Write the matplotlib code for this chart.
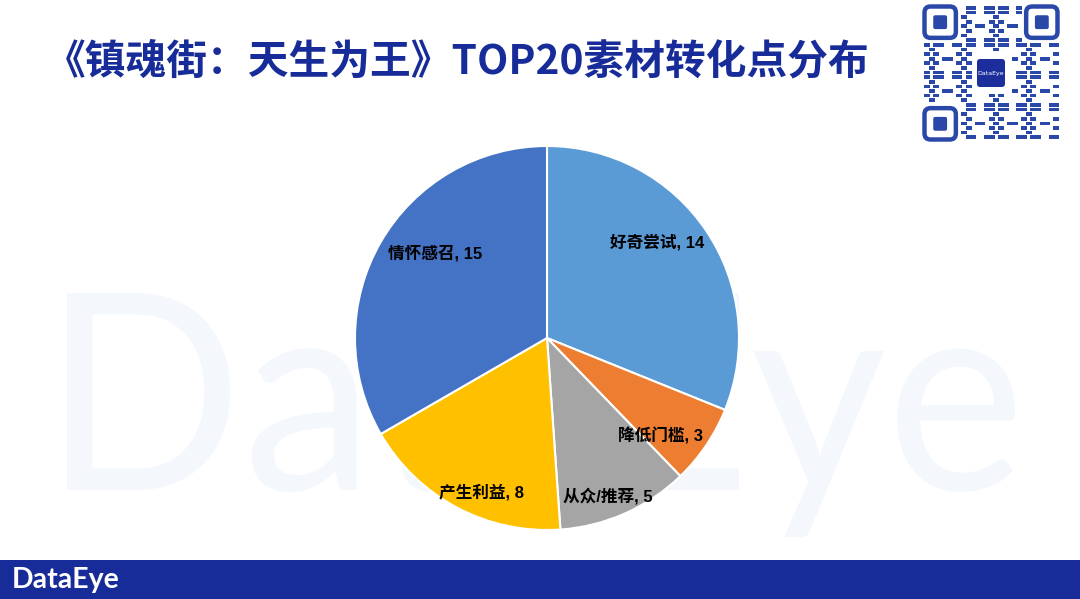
#%%
# imports
import matplotlib
matplotlib.use("Agg")
import matplotlib.pyplot as plt
import matplotlib.transforms as mtransforms
from matplotlib.patches import Rectangle, FancyBboxPatch, PathPatch
from matplotlib.textpath import TextPath
from matplotlib.font_manager import FontProperties
import numpy as np

# %%
# data
categories = ["好奇尝试", "降低门槛", "从众/推荐", "产生利益", "情怀感召"]
counts = [14, 3, 5, 8, 15]
colors = ["#5B9BD5", "#ED7D31", "#A5A5A5", "#FFC000", "#4472C4"]
title = "《镇魂街：天生为王》TOP20素材转化点分布"

# label placement inside each wedge (radius fraction, angle shift in deg)
label_r = [0.76, 0.78, 0.88, 0.87, 0.73]
label_shift = [7, -7, -3, 5, -7]

navy = "#172C98"
cjk = ["Noto Sans CJK SC", "DejaVu Sans"]
plt.rcParams["font.family"] = cjk

# %%
fig = plt.figure(figsize=(10.8, 5.99), dpi=100)
W, H = 1080, 599

# background layer: watermark, title, footer, qr
bg = fig.add_axes([0, 0, 1, 1])
bg.set_xlim(0, W)
bg.set_ylim(H, 0)
bg.axis("off")

# watermark, stretched to the box it fills on the slide
wm_prop = FontProperties(family="Lato")
wm = TextPath((0, 0), "DataEye", size=100, prop=wm_prop)
cap = TextPath((0, 0), "D", size=100, prop=wm_prop).get_extents().y1
ext = wm.get_extents()
sx = (1015 - 67) / ext.width
sy = 197 / cap
tr = (mtransforms.Affine2D().translate(-ext.x0, 0).scale(sx, -sy).translate(67, 490)
      + bg.transData)
bg.add_patch(PathPatch(wm, fc="#F4F8FD", ec="none", transform=tr, zorder=0))

bg.text(45, 62, title, fontsize=29.3, fontweight="bold", color=navy,
        ha="left", va="center")

bg.add_patch(Rectangle((0, 560), W, 39, color=navy, lw=0))
bg.text(12, 580, "DataEye", fontsize=20.5, color="white", family="Lato",
        fontweight="bold", ha="left", va="center")

# qr-ish block
qx, qy, qs = 924, 6, 134
n = 29
cell = qs / n
ii, jj = np.meshgrid(np.arange(n), np.arange(n))
bits = ((ii * ii * 3 + jj * jj * 5 + ii * jj * 7 + ii + 2 * jj) % 7) < 3
for i in range(n):
    for j in range(n):
        corner = (i < 8 and j < 8) or (i < 8 and j >= n - 8) or (i >= n - 8 and j < 8)
        mid = abs(i - n // 2) < 5 and abs(j - n // 2) < 5
        if bits[i, j] and not corner and not mid:
            bg.add_patch(Rectangle((qx + j * cell, qy + i * cell), cell * 1.3, cell * 0.8,
                                   color="#2A48A8", lw=0))
for cx, cy in [(qx, qy), (qx + qs - 7 * cell, qy), (qx, qy + qs - 7 * cell)]:
    bg.add_patch(FancyBboxPatch((cx + 0.5, cy + 0.5), 7 * cell - 1, 7 * cell - 1,
                                boxstyle="round,pad=0,rounding_size=6",
                                fc="none", ec="#2A48A8", lw=3.2))
    bg.add_patch(FancyBboxPatch((cx + 2 * cell, cy + 2 * cell), 3 * cell, 3 * cell,
                                boxstyle="round,pad=0,rounding_size=2",
                                fc="#2A48A8", ec="none"))
bg.add_patch(FancyBboxPatch((qx + qs / 2 - 14, qy + qs / 2 - 14), 28, 28,
                            boxstyle="round,pad=0,rounding_size=3",
                            fc="#1B2E9C", ec="none"))
bg.text(qx + qs / 2, qy + qs / 2, "DataEye", fontsize=4.5, color="white",
        family="DejaVu Sans", ha="center", va="center")

# %%
# pie
cx, cy, r = 547, 338, 192
ax = fig.add_axes([(cx - r) / W, (H - cy - r) / H, 2 * r / W, 2 * r / H])
wedges, _ = ax.pie(counts, colors=colors, startangle=90, counterclock=False,
                   wedgeprops=dict(edgecolor="white", linewidth=1.5))
ax.set_xlim(-1, 1)
ax.set_ylim(-1, 1)
ax.set_aspect("equal")

for w, name, val, lr, sh in zip(wedges, categories, counts, label_r, label_shift):
    mid = np.deg2rad((w.theta1 + w.theta2) / 2 + sh)
    ax.text(lr * np.cos(mid), lr * np.sin(mid), f"{name}, {val}",
            fontsize=12, family=["Liberation Sans", "Noto Sans CJK SC"],
            fontweight="bold", color="black", ha="center", va="center")

fig.savefig("out.png", dpi=100)
